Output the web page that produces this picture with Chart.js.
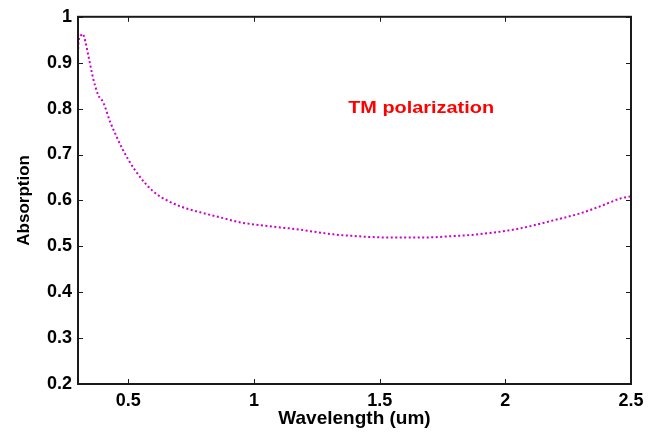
<!DOCTYPE html>
<html>
<head>
<meta charset="utf-8">
<script src="https://cdn.jsdelivr.net/npm/chart.js@4/dist/chart.umd.min.js"></script>
<style>
html,body{margin:0;padding:0;background:#fff;}
#wrap{width:672px;height:432px;position:relative;}
</style>
</head>
<body>
<div id="wrap"><canvas id="c" width="672" height="432"></canvas></div>
<script>
const wavelength = [0.300,0.302,0.310,0.317,0.325,0.341,0.361,0.381,0.400,0.428,0.456,0.477,0.500,0.528,0.568,0.607,0.647,0.707,0.786,0.866,0.946,1.025,1.105,1.144,1.224,1.315,1.410,1.474,1.542,1.620,1.730,1.780,1.848,1.939,2.059,2.180,2.299,2.377,2.457,2.500];
const absorption = [0.920,0.945,0.958,0.963,0.955,0.916,0.864,0.829,0.814,0.771,0.736,0.712,0.689,0.665,0.637,0.616,0.602,0.587,0.574,0.563,0.552,0.546,0.541,0.539,0.533,0.526,0.522,0.520,0.519,0.519,0.520,0.522,0.524,0.529,0.539,0.555,0.572,0.587,0.604,0.609];
const xTicks = [0.5, 1, 1.5, 2, 2.5];
const yTicks = [0.2, 0.3, 0.4, 0.5, 0.6, 0.7, 0.8, 0.9, 1];
const annotationText = 'TM polarization';
const annotationPos = {x: 1.665, y: 0.801};

const FONT = "'Liberation Sans', Arial, sans-serif";

const frame = {
  id: 'frame',
  afterDraw(chart) {
    const {ctx, chartArea: a, scales: {x, y}} = chart;
    ctx.save();
    ctx.strokeStyle = '#1a1a1a';
    ctx.lineWidth = 1;
    const tl = 5;
    ctx.beginPath();
    xTicks.forEach(v => {
      const px = Math.round(x.getPixelForValue(v)) + 0.5;
      ctx.moveTo(px, a.bottom); ctx.lineTo(px, a.bottom - tl);
      ctx.moveTo(px, a.top); ctx.lineTo(px, a.top + tl);
    });
    yTicks.forEach(v => {
      const py = Math.round(y.getPixelForValue(v)) + 0.5;
      ctx.moveTo(a.left, py); ctx.lineTo(a.left + tl, py);
      ctx.moveTo(a.right, py); ctx.lineTo(a.right - tl, py);
    });
    ctx.stroke();
    ctx.lineWidth = 2;
    ctx.strokeStyle = '#1a1a1a';
    ctx.strokeRect(a.left, a.top, a.right - a.left, a.bottom - a.top);
    // annotation (slightly widened, as in the reference)
    ctx.fillStyle = '#ff0000';
    ctx.font = "bold 17px " + FONT;
    ctx.textAlign = 'center';
    ctx.textBaseline = 'middle';
    const cx = x.getPixelForValue(annotationPos.x), cy = y.getPixelForValue(annotationPos.y);
    ctx.translate(cx, cy);
    ctx.scale(1.17, 1);
    ctx.fillText(annotationText, 0, 0);
    ctx.restore();
  }
};

new Chart(document.getElementById('c'), {
  type: 'line',
  data: {
    datasets: [{
      data: wavelength.map((w, i) => ({x: w, y: absorption[i]})),
      borderColor: 'rgb(204,0,204)',
      borderWidth: 2,
      borderDash: [2, 2.5],
      pointRadius: 0,
      fill: false,
      cubicInterpolationMode: 'monotone'
    }]
  },
  options: {
    responsive: false,
    animation: false,
    layout: {padding: {left: 0, top: 14, right: 41, bottom: 0}},
    plugins: {legend: {display: false}, tooltip: {enabled: false}},
    scales: {
      x: {
        type: 'linear', min: 0.3, max: 2.5,
        afterBuildTicks: s => { s.ticks = xTicks.map(v => ({value: v})); },
        afterFit: s => { s.height = 48; },
        grid: {display: false, drawTicks: false},
        border: {display: false},
        ticks: {color: '#000', padding: 6, maxRotation: 0, font: {family: FONT, size: 18, weight: 'bold'}, callback: v => String(v)},
        title: {display: true, text: 'Wavelength (um)', color: '#000', padding: {top: 0, bottom: 2}, font: {family: FONT, size: 19, weight: 'bold'}}
      },
      y: {
        type: 'linear', min: 0.2, max: 1,
        afterBuildTicks: s => { s.ticks = yTicks.map(v => ({value: v})); },
        afterFit: s => { s.width = 78; },
        grid: {display: false, drawTicks: false},
        border: {display: false},
        ticks: {color: '#000', padding: 6, font: {family: FONT, size: 18, weight: 'bold'}, callback: v => String(Math.round(v * 10) / 10)},
        title: {display: true, text: 'Absorption', color: '#000', padding: {top: 14, bottom: 0}, font: {family: FONT, size: 17, weight: 'bold'}}
      }
    }
  },
  plugins: [frame]
});
</script>
</body>
</html>
